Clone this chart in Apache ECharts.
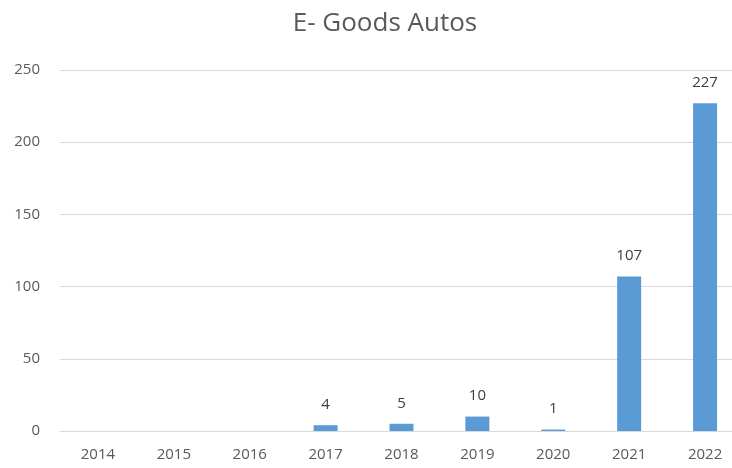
<!DOCTYPE html>
<html>
<head>
<meta charset="utf-8">
<script src="https://cdn.jsdelivr.net/npm/echarts@6/dist/echarts.min.js"></script>
<style>
  html, body { margin: 0; padding: 0; background: #fff; overflow: hidden; }
  #chart { width: 745px; height: 468px; }
</style>
</head>
<body>
<div id="chart"></div>
<script>
// Yearly counts of E-Goods autos
const years = ['2014', '2015', '2016', '2017', '2018', '2019', '2020', '2021', '2022'];
const counts = [0, 0, 0, 4, 5, 10, 1, 107, 227];
const yTicks = [0, 50, 100, 150, 200, 250];

const chart = echarts.init(document.getElementById('chart'));
chart.setOption({
  animation: false,
  backgroundColor: '#ffffff',
  title: {
    text: 'E- Goods Autos',
    left: 380,
    top: 6,
    textAlign: 'center',
    textStyle: {
      fontFamily: 'Open Sans',
      fontSize: 26,
      fontWeight: 'normal',
      color: '#595959'
    }
  },
  grid: { left: 60, width: 683, top: 70, height: 361 },
  xAxis: {
    type: 'category',
    data: years,
    axisLine: { lineStyle: { color: '#d9d9d9' } },
    axisTick: { show: false },
    axisLabel: {
      fontFamily: 'Open Sans',
      fontSize: 15,
      color: '#595959',
      margin: 16
    }
  },
  yAxis: {
    type: 'value',
    min: yTicks[0],
    max: yTicks[yTicks.length - 1],
    interval: yTicks[1] - yTicks[0],
    axisLine: { show: false },
    axisTick: { show: false },
    splitLine: { lineStyle: { color: '#d9d9d9' } },
    axisLabel: {
      fontFamily: 'Open Sans',
      fontSize: 15,
      color: '#595959',
      margin: 20
    }
  },
  series: [{
    type: 'bar',
    data: counts.map(v => ({
      value: v,
      label: { show: v > 0 }
    })),
    barWidth: 24,
    itemStyle: { color: '#5b9bd5' },
    label: {
      position: 'top',
      distance: 13,
      fontFamily: 'Open Sans',
      fontSize: 15,
      color: '#404040'
    }
  }]
});
</script>
</body>
</html>
